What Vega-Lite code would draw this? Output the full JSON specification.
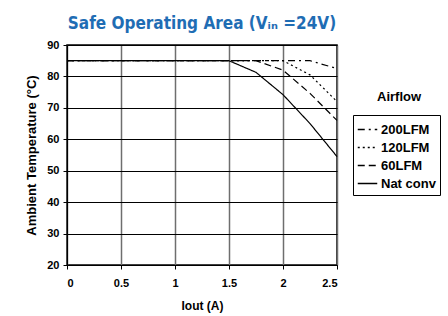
{
  "$schema": "https://vega.github.io/schema/vega-lite/v6.json",
  "autosize": "none",
  "width": 270,
  "height": 220,
  "padding": {"left": 67, "top": 45, "right": 111, "bottom": 51},
  "background": "white",
  "title": {
    "text": "Safe Operating Area (Vᵢₙ =24V)",
    "font": "DejaVu Sans Condensed, Liberation Sans",
    "fontSize": 17,
    "fontWeight": "bold",
    "color": "#1f6db4",
    "anchor": "middle",
    "offset": 6
  },
  "config": {
    "view": {"stroke": "black", "strokeWidth": 1.5},
    "axis": {
      "labelFont": "Liberation Sans",
      "labelFontSize": 11,
      "labelFontWeight": "bold",
      "labelColor": "black",
      "titleFont": "Liberation Sans",
      "titleFontSize": 12,
      "titleFontWeight": "bold",
      "titleColor": "black",
      "domainColor": "black",
      "tickColor": "black",
      "tickSize": 4
    }
  },
  "data": {
    "values": [
      {"s": "Nat conv", "I": 0, "T": 85},
      {"s": "Nat conv", "I": 1.5, "T": 85},
      {"s": "Nat conv", "I": 1.75, "T": 81.3},
      {"s": "Nat conv", "I": 2.0, "T": 74.2},
      {"s": "Nat conv", "I": 2.25, "T": 65},
      {"s": "Nat conv", "I": 2.5, "T": 54.5},
      {"s": "60LFM", "I": 0, "T": 85},
      {"s": "60LFM", "I": 1.75, "T": 85},
      {"s": "60LFM", "I": 2.0, "T": 82},
      {"s": "60LFM", "I": 2.25, "T": 74.6},
      {"s": "60LFM", "I": 2.5, "T": 66},
      {"s": "120LFM", "I": 0, "T": 85},
      {"s": "120LFM", "I": 2.0, "T": 85},
      {"s": "120LFM", "I": 2.25, "T": 80.5},
      {"s": "120LFM", "I": 2.5, "T": 72},
      {"s": "200LFM", "I": 0, "T": 85},
      {"s": "200LFM", "I": 2.25, "T": 85},
      {"s": "200LFM", "I": 2.5, "T": 82.5}
    ]
  },
  "mark": {"type": "line", "color": "black", "strokeWidth": 1.2},
  "encoding": {
    "x": {
      "field": "I", "type": "quantitative",
      "scale": {"domain": [0, 2.5], "nice": false},
      "axis": {
        "values": [0, 0.5, 1, 1.5, 2, 2.5],
        "labelExpr": "datum.value + ''",
        "title": "Iout  (A)",
        "titlePadding": 12,
        "labelPadding": 8,
        "gridColor": "#6e6e6e",
        "gridWidth": 1.5,
        "gridOpacity": 1
      }
    },
    "y": {
      "field": "T", "type": "quantitative",
      "scale": {"domain": [20, 90], "nice": false, "zero": false},
      "axis": {
        "values": [20, 30, 40, 50, 60, 70, 80, 90],
        "title": "Ambient Temperature (°C)",
        "titleFontSize": 13,
        "titlePadding": 8,
        "labelPadding": 4,
        "gridColor": "black",
        "gridWidth": 1,
        "gridOpacity": 1
      }
    },
    "opacity": {
      "datum": "Airflow", "type": "nominal",
      "scale": {"range": [1]},
      "legend": {
        "orient": "none",
        "legendX": 297,
        "legendY": 45,
        "title": null,
        "symbolType": "circle",
        "symbolOpacity": 0,
        "symbolStrokeWidth": 0,
        "symbolStrokeColor": "transparent",
        "symbolFillColor": "transparent",
        "symbolSize": 1,
        "labelOffset": 0,
        "labelFont": "Liberation Sans",
        "labelFontSize": 13,
        "labelFontWeight": "bold",
        "labelColor": "black"
      }
    },
    "strokeDash": {
      "field": "s", "type": "nominal",
      "scale": {
        "domain": ["200LFM", "120LFM", "60LFM", "Nat conv"],
        "range": [[7, 4, 2, 4], [2, 3], [7, 4], [1, 0]]
      },
      "legend": {
        "orient": "none",
        "legendX": 286,
        "legendY": 70,
        "title": null,
        "labelFont": "Liberation Sans",
        "labelFontSize": 13,
        "labelFontWeight": "bold",
        "labelColor": "black",
        "symbolType": "stroke",
        "symbolSize": 380,
        "symbolStrokeColor": "black",
        "symbolStrokeWidth": 1.5,
        "labelOffset": 3,
        "rowPadding": 0,
        "strokeColor": "black",
        "padding": 4
      }
    }
  }
}
